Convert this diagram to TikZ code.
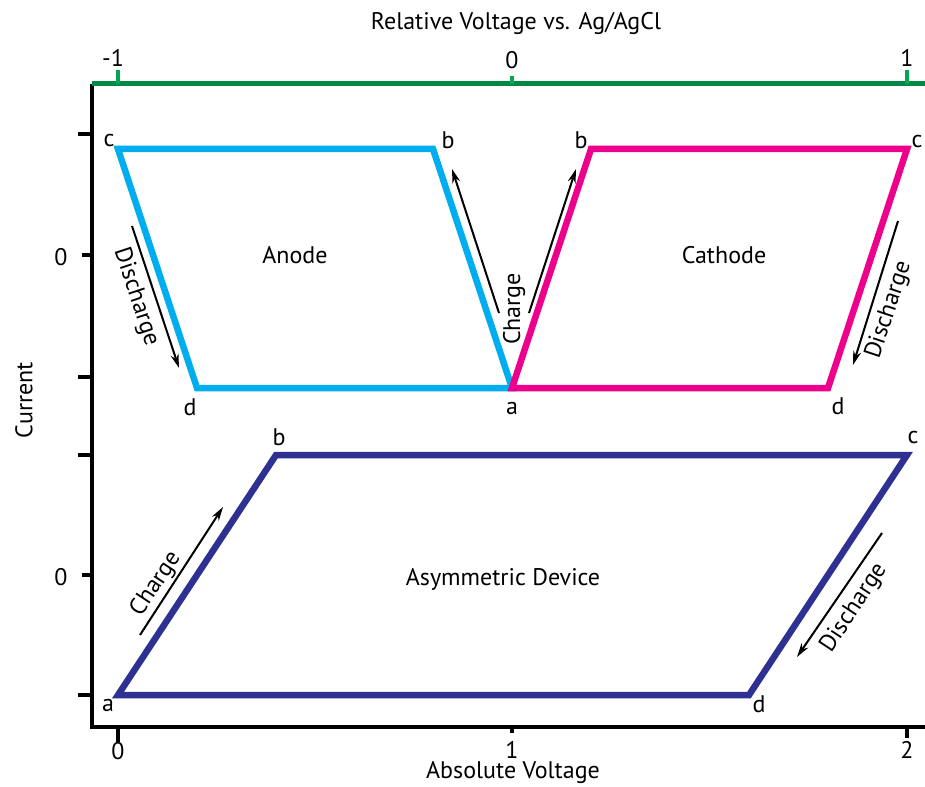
\documentclass[tikz,border=0pt]{standalone}
\usepackage{fontspec}
\setmainfont{PT Sans}
\usetikzlibrary{arrows.meta}
\definecolor{anodeblue}{RGB}{0,174,239}
\definecolor{cathodepink}{RGB}{236,0,140}
\definecolor{devicenavy}{RGB}{46,49,146}
\definecolor{refgreen}{RGB}{0,137,68}
\definecolor{tickgreen}{RGB}{0,166,81}

\tikzset{
  loop/.style={line width=6.5pt, line join=miter},
  sweep/.style={line width=2pt, -{Stealth[length=14pt, width=8pt]}},
  corner/.style={inner sep=1pt},
  axisline/.style={line width=4pt},
}

\begin{document}
\begin{tikzpicture}[x=1pt, y=-1pt, font=\fontsize{24}{28}\selectfont]
  \useasboundingbox (0,0) rectangle (925,786);

  % ============ axes ============
  \coordinate (o) at (92,84);
  \coordinate (bl) at (92,727);
  \coordinate (br) at (925,727);
  \coordinate (tr) at (925,84);
  \draw[axisline, line join=miter] (o) -- (bl) -- (br);
  \draw[line width=5pt, refgreen] (o) -- (tr);
  % current ticks
  \foreach \y/\l in {134/14, 255/10, 377/14, 455/14, 575/10, 695/14}
    \draw[line width=4pt] (92,\y) -- ++(-\l,0);
  \node (izero1) at (61,257) {0};
  \node (izero2) at (61,577) {0};
  \node[rotate=90] (ilabel) at (24,400) {Current};
  % relative voltage ticks
  \foreach \x/\l in {118/14, 512/8, 907/14}
    \draw[line width=4pt, tickgreen] (\x,84) -- ++(0,-\l);
  \node (rm1) at (113,58) {-1};
  \node (r0) at (512,60) {0};
  \node (r1) at (907,58) {1};
  \node (rlabel) at (516,24) {Relative Voltage vs. Ag/AgCl};
  % absolute voltage ticks
  \foreach \x/\l in {118/15, 512/6, 907/11}
    \draw[line width=4pt] (\x,727) -- ++(0,\l);
  \node (a0) at (118,751) {0};
  \node (a1) at (512,750) {1};
  \node (a2) at (907,750) {2};
  \node (alabel) at (513,773) {Absolute Voltage};

  % ============ anode ============
  \coordinate (ac) at (118,149);
  \coordinate (ab) at (433,149);
  \coordinate (aa) at (512,388);
  \coordinate (ad) at (197,388);
  \draw[loop, anodeblue] (ac) -- (ab) -- (aa) -- (ad) -- cycle;
  \node[corner] (acl) at (109,141) {c};
  \node[corner] (abl) at (448,140) {b};
  \node[corner] (adl) at (190,407) {d};
  \node (anode) at (295,255) {Anode};
  \coordinate (adis0) at (132,226);
  \coordinate (adis1) at (179,368);
  \draw[sweep] (adis0) -- (adis1);
  \node[rotate=-71.7] (adisl) at (136,297) {Discharge};
  \coordinate (achg0) at (499,313);
  \coordinate (achg1) at (452,169);
  \draw[sweep] (achg0) -- (achg1);
  \node[rotate=90] (achgl) at (514,309) {Charge};

  % ============ cathode ============
  \coordinate (cb) at (591,149);
  \coordinate (cc) at (907,149);
  \coordinate (cd) at (828,388);
  \draw[loop, cathodepink] (aa) -- (cb) -- (cc) -- (cd) -- cycle;
  \node[corner] (cbl) at (581,140) {b};
  \node[corner] (ccl) at (917,142) {c};
  \node[corner] (cdl) at (838,406) {d};
  \node[corner] (cal) at (512,408) {a};
  \node (cathode) at (724,255) {Cathode};
  \coordinate (cchg0) at (529,313);
  \coordinate (cchg1) at (576,169);
  \draw[sweep] (cchg0) -- (cchg1);
  \coordinate (cdis0) at (898,221);
  \coordinate (cdis1) at (853,365);
  \draw[sweep] (cdis0) -- (cdis1);
  \node[rotate=71.7] (cdisl) at (889,310) {Discharge};

  % ============ asymmetric device ============
  \coordinate (da) at (118,695);
  \coordinate (db) at (276,455);
  \coordinate (dc) at (907,455);
  \coordinate (dd) at (749,695);
  \draw[loop, devicenavy] (da) -- (db) -- (dc) -- (dd) -- cycle;
  \node[corner] (dbl) at (279,437) {b};
  \node[corner] (dcl) at (913,437) {c};
  \node[corner] (dal) at (108,705) {a};
  \node[corner] (ddl) at (759,704) {d};
  \node (device) at (503,579) {Asymmetric Device};
  \coordinate (dchg0) at (140,635);
  \coordinate (dchg1) at (223,507);
  \draw[sweep] (dchg0) -- (dchg1);
  \node[rotate=56.6] (dchgl) at (156,584) {Charge};
  \coordinate (ddis0) at (882,533);
  \coordinate (ddis1) at (797,657);
  \draw[sweep] (ddis0) -- (ddis1);
  \node[rotate=56.6] (ddisl) at (854,608) {Discharge};
\end{tikzpicture}
\end{document}
